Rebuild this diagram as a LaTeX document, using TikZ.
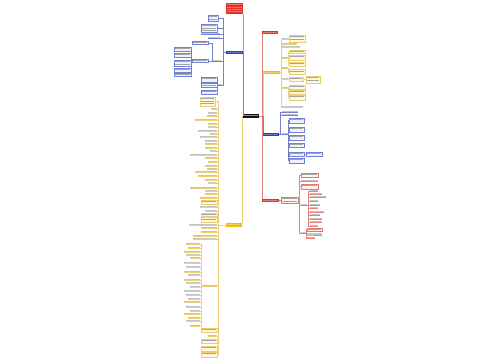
\documentclass[tikz,border=0pt]{standalone}
\definecolor{rootc}{RGB}{20,20,20}
\definecolor{redc}{RGB}{228,48,40}
\definecolor{yelc}{RGB}{240,185,20}
\definecolor{bluc}{RGB}{40,62,190}
\definecolor{rlin}{RGB}{232,130,120}
\definecolor{ylin}{RGB}{238,208,120}
\definecolor{blin}{RGB}{115,128,210}
\definecolor{rbf}{RGB}{255,242,240}
\definecolor{rbd}{RGB}{232,120,110}
\definecolor{ybf}{RGB}{255,248,222}
\definecolor{ybd}{RGB}{238,205,110}
\definecolor{bbf}{RGB}{238,241,255}
\definecolor{bbd}{RGB}{115,130,215}
\definecolor{txtc}{RGB}{165,165,165}
\definecolor{barc}{RGB}{195,195,195}
% text lines inside a node
\newcommand\tlines[3]{\foreach \k in {1,...,#2}{\fill[#3] ([xshift=1pt,yshift={-(\k*2.4-1.3)*1pt}]#1.north west) rectangle ([xshift=-1.2pt,yshift={-(\k*2.4-0.6)*1pt}]#1.north east);}}
% leaf, children on the left of the trunk
\newcommand\lfl[7]{\node[tbar,minimum width={#4-#3}] (#2) at (#3,#5) {};
 \draw[#1] (#7) -- (#6) |- ([yshift=-0.5pt]#2.south east) -- ([yshift=-0.5pt]#2.south west);}
% leaf, children on the right of the trunk
\newcommand\lfr[7]{\node[tbar,minimum width={#4-#3}] (#2) at (#3,#5) {};
 \draw[#1] (#7) -- (#6) |- ([yshift=-0.5pt]#2.south west) -- ([yshift=-0.5pt]#2.south east);}
% boxes
\newcommand\bxl[9]{\node[#1,minimum width=#6,minimum height=#7] (#3) at (#4,#5) {};
 \pgfmathtruncatemacro\nl{max(1,(#7-0.8)/2.4)}\tlines{#3}{\nl}{txtc}
 \draw[#2] (#9) -- (#8) |- (#3.east);}
\newcommand\bxr[9]{\node[#1,minimum width=#6,minimum height=#7] (#3) at (#4,#5) {};
 \pgfmathtruncatemacro\nl{max(1,(#7-0.8)/2.4)}\tlines{#3}{\nl}{txtc}
 \draw[#2] (#9) -- (#8) |- (#3.west);}
\begin{document}
\begin{tikzpicture}[x=1pt,y=-1pt,
 every node/.style={inner sep=0pt,outer sep=0pt},
 nw/.style={anchor=north west},
 rootn/.style={nw,fill=rootc},
 redn/.style={nw,fill=redc},
 yeln/.style={nw,fill=yelc},
 blun/.style={nw,fill=bluc},
 ybox/.style={nw,draw=ybd,fill=ybf,line width=0.35pt},
 bbox/.style={nw,draw=bbd,fill=bbf,line width=0.35pt},
 rbox/.style={nw,draw=rbd,fill=rbf,line width=0.35pt},
 tbar/.style={anchor=south west,fill=barc,minimum height=1.1},
 yl/.style={draw=ylin,line width=0.4pt},
 bl/.style={draw=blin,line width=0.4pt},
 rl/.style={draw=rlin,line width=0.4pt},
]
\useasboundingbox[fill=white] (0,0) rectangle (500,360);

% ---------- root and main branches ----------
\node[rootn,minimum width=16,minimum height=4.5] (root) at (243,113.5) {};
\tlines{root}{1}{white!55!black}
\node[redn,minimum width=17,minimum height=11] (L1) at (226,3) {};
\tlines{L1}{4}{white!35!redc}
\node[blun,minimum width=17,minimum height=2.8] (L2) at (226,51) {};
\tlines{L2}{1}{white!30!bluc}
\node[yeln,minimum width=16,minimum height=3.5] (L3) at (226,223) {};
\tlines{L3}{1}{white!30!yelc}
\node[redn,minimum width=16,minimum height=3.2] (R1) at (262,31) {};
\tlines{R1}{1}{white!35!redc}
\node[yeln,minimum width=18,minimum height=3.2] (R2) at (262,71) {};
\tlines{R2}{1}{white!30!yelc}
\node[blun,minimum width=17,minimum height=3] (R3) at (262,133) {};
\tlines{R3}{1}{white!30!bluc}
\node[redn,minimum width=17,minimum height=3.2] (R4) at (262,199) {};
\tlines{R4}{1}{white!35!redc}

\draw[rl] (root.west) -| (L1.south east);
\draw[bl] (root.west) -| (L2.east);
\draw[yl] (root.west) -| (L3.north east);
\draw[rl] (root.east) -| (R1.south west);
\draw[yl] (root.east) -| ([xshift=1pt]R2.south west);
\draw[bl] (root.east) -| ([xshift=1pt]R3.north west);
\draw[rl] (root.east) -| (R4.north west);

% ---------- left blue branch ----------
\coordinate (tB) at ([xshift=-3pt]L2.west);
\bxl{bbox}{bl}{B1}{208}{15}{10}{6}{tB}{L2.west}
\bxl{bbox}{bl}{B2}{201}{24}{16}{8}{tB}{L2.west}
\lfl{bl}{B3}{201}{220}{34}{tB}{L2.west}
\lfl{bl}{B4}{208}{220}{38}{tB}{L2.west}
\lfl{bl}{Bm}{213}{221}{61}{tB}{L2.west}
\coordinate (Bmw) at ([yshift=-0.5pt]Bm.south west);
\coordinate (tBm) at ([xshift=-1pt]Bmw);
\bxl{bbox}{bl}{B5}{192}{41}{16}{3.5}{tBm}{Bmw}
\bxl{bbox}{bl}{B6}{192}{59}{16}{3.5}{tBm}{Bmw}
\coordinate (tB6) at ([xshift=-0.6pt]B6.west);
\foreach \y/\h [count=\i] in {47/4,53/4.5,60/6,68/4,73/3}
  {\bxl{bbox}{bl}{Bc\i}{174}{\y}{17}{\h}{tB6}{B6.west}}
\lfl{bl}{Bn}{218}{222}{85}{tB}{L2.west}
\coordinate (Bnw) at ([yshift=-0.5pt]Bn.south west);
\coordinate (tBn) at ([xshift=-0.5pt]Bnw);
\foreach \y/\h [count=\i] in {77/5,83.5/4,90/4}
  {\bxl{bbox}{bl}{Bd\i}{201}{\y}{16}{\h}{tBn}{Bnw}}

% ---------- left yellow branch ----------
\coordinate (tY) at ([xshift=-8pt]L3.west);
\bxl{ybox}{yl}{Yb1}{200}{97}{15}{9}{tY}{L3.west}
\foreach \y/\a [count=\i] in {109/211,113/208,116/207,120/195,124/208,127/208,131/198,134/210,137/200,141/205,144/205,148/205,151/210,155/190,158/205,162/208,166/205,169/207,172/195,176/198,180/205,183/208,188/190,191/205,194/205,198/200,207/200,211/205,225/189,228/201,232/201,236/193,239/193,336/208}
  {\lfl{yl}{Ya\i}{\a}{217}{\y}{tY}{L3.west}}
\foreach \y/\h [count=\i] in {200/4,213/3.5,217.5/4.5,328/4,339/4.5,346/5,352/5}
  {\bxl{ybox}{yl}{Yc\i}{201}{\y}{16}{\h}{tY}{L3.west}}
\lfl{yl}{Ys}{202}{217}{286}{tY}{L3.west}
\coordinate (Ysw) at ([yshift=-0.5pt]Ys.south west);
\coordinate (tYs) at ([xshift=-0.8pt]Ysw);
\foreach \y/\a [count=\i] in {244/186,248/188,252/184,255/186,258/190,263/184,267/186,272/184,275/188,280/184,283/186,287/190,291/184,295/186,299/188,302/184,307/186,311/190,314/184,318/188,321/186,326/190}
  {\lfl{yl}{Yd\i}{\a}{200}{\y}{tYs}{Ysw}}

% ---------- right yellow branch ----------
\coordinate (tR2) at ([xshift=1.5pt]R2.east);
\lfr{yl}{ya1}{282}{288}{39}{tR2}{R2.east}
\coordinate (ya1e) at ([yshift=-0.5pt]ya1.south east);
\bxr{ybox}{yl}{yb1}{289}{35}{16}{7}{ya1e}{ya1e}
\lfr{yl}{ya2}{282}{297}{44}{tR2}{R2.east}
\lfr{yl}{ya3}{282}{300}{47}{tR2}{R2.east}
\lfr{yl}{ya4}{282}{288}{58}{tR2}{R2.east}
\coordinate (ya4e) at ([yshift=-0.5pt]ya4.south east);
\coordinate (t4) at ([xshift=0.5pt]ya4e);
\foreach \y/\h [count=\i] in {50/3.5,55/5,62/4}
  {\bxr{ybox}{yl}{yc\i}{289}{\y}{16}{\h}{t4}{ya4e}}
\lfr{yl}{ya5}{282}{288}{68}{tR2}{R2.east}
\coordinate (ya5e) at ([yshift=-0.5pt]ya5.south east);
\coordinate (t5) at ([xshift=0.5pt]ya5e);
\bxr{ybox}{yl}{yd1}{289}{69.5}{16}{4.5}{t5}{ya5e}
\lfr{yl}{ya6}{282}{288}{79}{tR2}{R2.east}
\coordinate (ya6e) at ([yshift=-0.5pt]ya6.south east);
\coordinate (t6) at ([xshift=0.5pt]ya6e);
\bxr{ybox}{yl}{ye1}{289}{77}{14}{4}{t6}{ya6e}
\coordinate (t7) at ([xshift=1pt]ye1.east);
\bxr{ybox}{yl}{ye2}{306}{76}{14}{7}{t7}{ye1.east}
\lfr{yl}{ya7}{282}{288}{88}{tR2}{R2.east}
\coordinate (ya7e) at ([yshift=-0.5pt]ya7.south east);
\coordinate (t8) at ([xshift=0.5pt]ya7e);
\foreach \y/\h [count=\i] in {85/4,90/4,95/5}
  {\bxr{ybox}{yl}{yf\i}{289}{\y}{16}{\h}{t8}{ya7e}}
\lfr{yl}{ya8}{282}{303}{107}{tR2}{R2.east}

% ---------- right blue branch ----------
\coordinate (tR3) at ([xshift=1.5pt]R3.east);
\lfr{bl}{ba1}{282}{298}{112}{tR3}{R3.east}
\lfr{bl}{ba2}{282}{298}{115}{tR3}{R3.east}
\lfr{bl}{ba3}{282}{288}{134}{tR3}{R3.east}
\coordinate (ba3e) at ([yshift=-0.5pt]ba3.south east);
\coordinate (t9) at ([xshift=0.5pt]ba3e);
\foreach \y/\h [count=\i] in {118/5,127/5,135/5,143/4,152/4,158/5}
  {\bxr{bbox}{bl}{bb\i}{289}{\y}{15}{\h}{t9}{ba3e}}
\coordinate (t10) at ([xshift=1pt]bb5.east);
\bxr{bbox}{bl}{bs1}{306}{152}{16}{4}{t10}{bb5.east}

% ---------- right red branch ----------
\coordinate (tR4) at ([xshift=1pt]R4.east);
\bxr{rbox}{rl}{rb0}{281}{197}{17}{6}{tR4}{R4.east}
\coordinate (tR5) at ([xshift=1.5pt]rb0.east);
\bxr{rbox}{rl}{rc1}{301}{173}{17}{4}{tR5}{rb0.east}
\lfr{rl}{rc2}{301}{318}{181}{tR5}{rb0.east}
\bxr{rbox}{rl}{rc3}{301}{184}{17}{5}{tR5}{rb0.east}
\lfr{rl}{rc4}{301}{307}{205}{tR5}{rb0.east}
\coordinate (rc4e) at ([yshift=-0.5pt]rc4.south east);
\coordinate (t11) at ([xshift=1.5pt]rc4e);
\foreach \y/\b [count=\i] in {191/318,194/322,197/326,201/318,205/320,208/318,212/324,215/320,219/322,222/322,226/318}
  {\lfr{rl}{rd\i}{310}{\b}{\y}{t11}{rc4e}}
\lfr{rl}{rc5}{301}{306}{233}{tR5}{rb0.east}
\coordinate (rc5e) at ([yshift=-0.5pt]rc5.south east);
\coordinate (t12) at ([xshift=0.5pt]rc5e);
\bxr{rbox}{rl}{re1}{307}{228}{15}{3}{t12}{rc5e}
\lfr{rl}{re2}{307}{322}{234.5}{t12}{rc5e}
\lfr{rl}{re3}{307}{315}{238}{t12}{rc5e}
\end{tikzpicture}
\end{document}
